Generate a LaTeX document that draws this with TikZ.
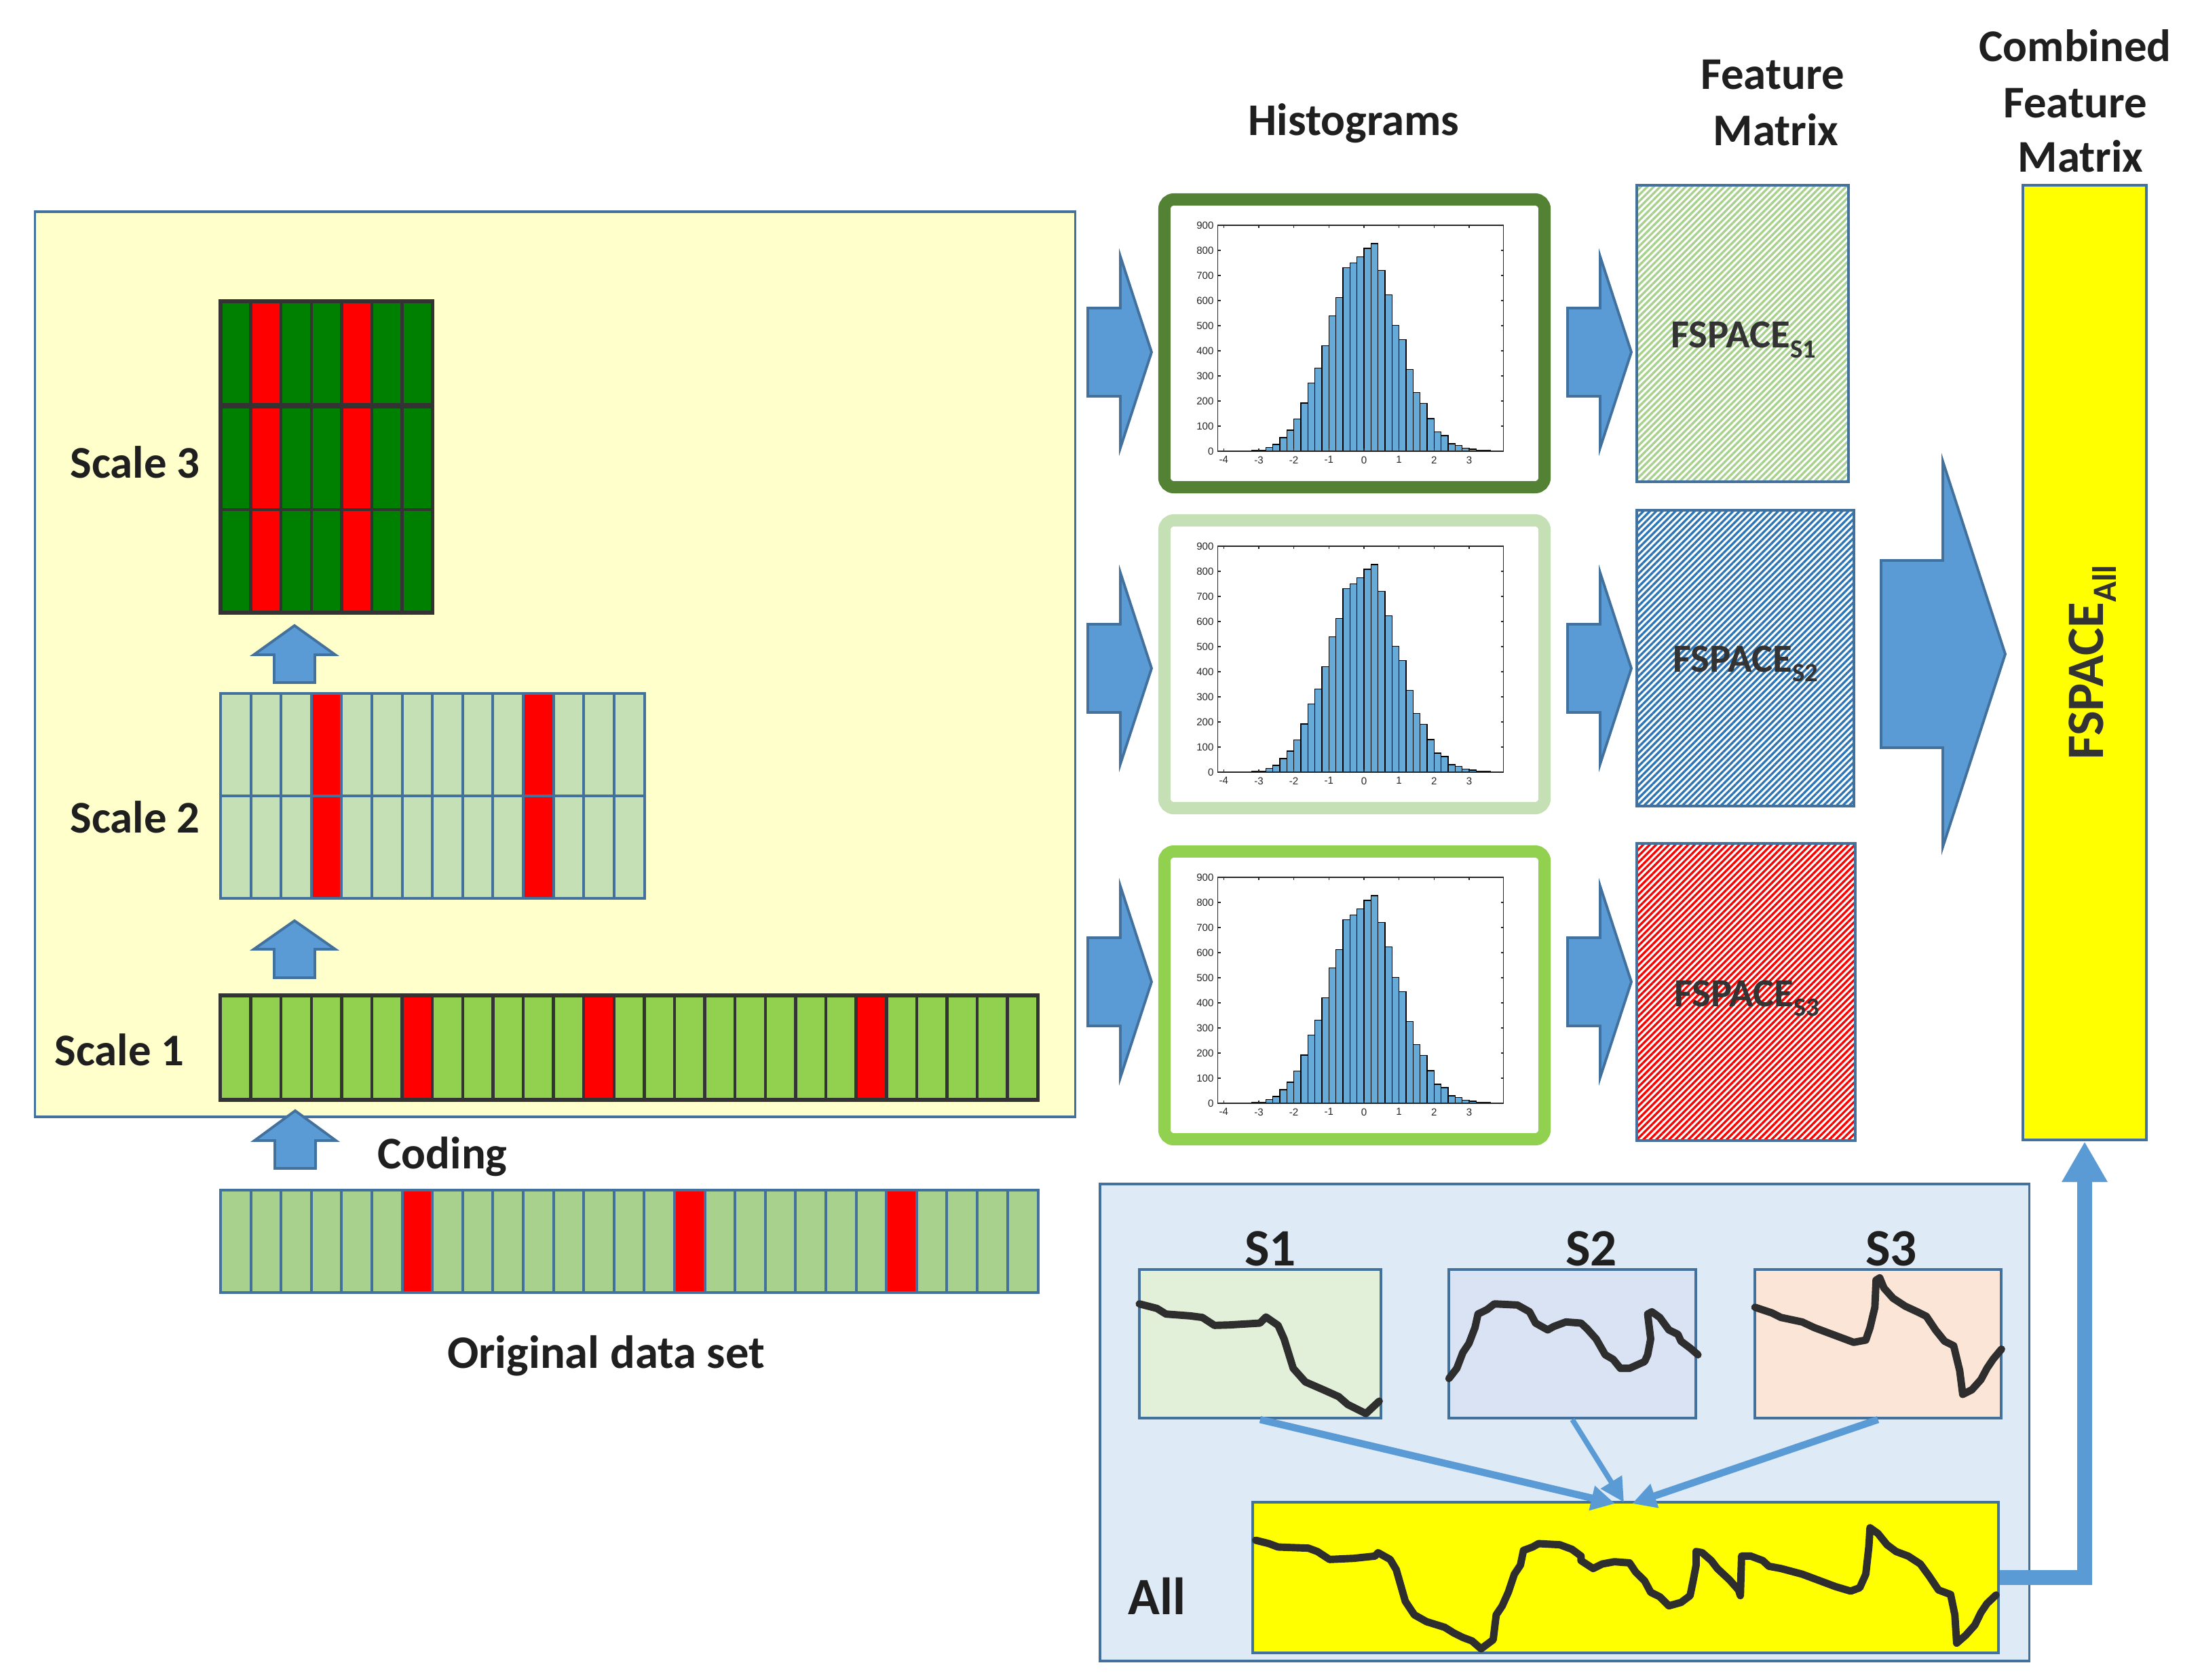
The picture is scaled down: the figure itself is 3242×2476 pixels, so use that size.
\documentclass[tikz,border=0pt]{standalone}
\usepackage{fontspec}
\setmainfont{Carlito}
\newfontfamily\libsans{Liberation Sans}
\usetikzlibrary{arrows.meta,patterns.meta}
\definecolor{bborder}{HTML}{41719C}
\definecolor{afill}{HTML}{5B9BD5}
\definecolor{ybg}{HTML}{FFFFCC}
\definecolor{pbg}{HTML}{DEEBF7}
\definecolor{sonebg}{HTML}{E2F0D9}
\definecolor{stwobg}{HTML}{DAE3F3}
\definecolor{sthreebg}{HTML}{FBE5D6}
\definecolor{gdark}{HTML}{008000}
\definecolor{gmid}{HTML}{92D050}
\definecolor{glight}{HTML}{C5E0B4}
\definecolor{gorig}{HTML}{A9D18E}
\definecolor{hgreen}{HTML}{548235}
\definecolor{gridcol}{HTML}{333333}
\definecolor{txt}{HTML}{1F1F1F}
\definecolor{fstxt}{HTML}{333333}
\definecolor{hbarcol}{HTML}{66AAD7}
\definecolor{pblue}{HTML}{2E75B6}
\definecolor{curvecol}{HTML}{2E2E2E}
\definecolor{pred}{HTML}{FF0000}
\definecolor{yel}{HTML}{FFFF00}

\tikzset{
 barrow/.style={draw=bborder, fill=afill, line width=1.1pt, line join=miter},
 dgrid/.style={draw=gridcol, line width=1.3pt},
 bgrid/.style={draw=bborder, line width=1.1pt},
 lbl/.style={font=\fontsize{19}{23}\selectfont\bfseries, text=txt, inner sep=0pt},
 ttl/.style={lbl},
 box/.style={draw=bborder, line width=1.1pt, inner sep=0pt},
 hframe/.style={line width=5.1pt, fill=white, rounded corners=4pt, inner sep=0pt},
 hbar/.style={draw=black, line width=0.35pt, fill=hbarcol},
 axl/.style={draw=black!85, line width=0.35pt},
 tick/.style={font=\libsans\fontsize{4.3}{5}\selectfont, text=black!85, inner sep=0.8pt},
 fsl/.style={font=\fontsize{16.7}{20}\selectfont\bfseries, text=fstxt, inner sep=0pt},
 curve/.style={draw=curvecol, line width=3.1pt, line join=round, line cap=round},
 conn/.style={draw=afill, -{Triangle[length=10pt,width=10pt]}},
 outconn/.style={draw=afill, line width=6pt, -{Triangle[length=17pt,width=18pt]}},
 slbl/.style={font=\fontsize{22}{26}\selectfont\bfseries, text=txt, inner sep=0pt},
}

\newcommand\uparr[6]{\draw[barrow] (#1-#5,#4) -- (#1-#5,#3) -- (#1-#6,#3) -- (#1,#2) -- (#1+#6,#3) -- (#1+#5,#3) -- (#1+#5,#4) -- cycle;}
\newcommand\rarr[6]{\draw[barrow] (#1,#4-#5) -- (#2,#4-#5) -- (#2,#4-#6) -- (#3,#4) -- (#2,#4+#6) -- (#2,#4+#5) -- (#1,#4+#5) -- cycle;}
\newcommand\fsub[1]{\raisebox{-0.25em}{\fontsize{11}{13}\selectfont #1}}

\newcommand\histo[3]{%
\begin{scope}[shift={(#1,#2)}]
 \foreach \h [count=\i from 0] in {5,5,14,27,54,84,129,192,271,331,420,539,613,732,751,775,808,827,721,623,501,444,325,233,190,130,76,62,30,22,12,8,4,3}
   { \draw[hbar] ({96.3+(0.8+\i*0.2)*51.67},380) rectangle ++(10.334,{-\h*0.37}); }
 \draw[axl] (87.5,47) rectangle (508.5,380);
 \foreach \v [count=\j] in {-4,...,3} {
   \draw[axl] ({96.3+(\v+4)*51.67},380) -- ++(0,-4);
   \draw[axl] ({96.3+(\v+4)*51.67},47) -- ++(0,4);
   \node[tick, anchor=north] (#3x\j) at ({96.3+(\v+4)*51.67},384) {\v};
 }
 \foreach \k in {0,...,9} {
   \draw[axl] (87.5,{380-\k*37}) -- ++(4,0);
   \draw[axl] (508.5,{380-\k*37}) -- ++(-4,0);
   \node[tick, anchor=east] (#3y\k) at (85,{380-\k*37}) {\the\numexpr\k*100\relax};
 }
\end{scope}}

\begin{document}
\begin{tikzpicture}[x=0.01cm, y=-0.01cm]
\useasboundingbox (0,0) rectangle (3242,2476);
\fill[white] (0,0) rectangle (3242,2476);

% ---------- left yellow panel ----------
\node[box, fill=ybg, minimum width=15.32cm, minimum height=13.34cm] (ybox) at (818,979) {};

% Scale 3
\fill[gdark] (325,444) rectangle (637.2,903);
\foreach \c in {1,4} \fill[pred] ({325+\c*44.6},444) rectangle ++(44.6,459);
\foreach \c in {1,...,6} \draw[dgrid] ({325+\c*44.6},444) -- ++(0,459);
\draw[dgrid, line width=2.4pt] (325,598) -- (637.2,598);
\draw[dgrid] (325,751) -- (637.2,751);
\node[draw=gridcol, line width=1.5pt, inner sep=0pt, minimum width=3.122cm, minimum height=4.59cm] (scthree) at (481.1,673.5) {};

% Scale 2
\fill[glight] (325,1022) rectangle (949.4,1324);
\foreach \c in {3,10} \fill[pred] ({325+\c*44.6},1022) rectangle ++(44.6,302);
\foreach \c in {1,...,13} \draw[bgrid] ({325+\c*44.6},1022) -- ++(0,302);
\draw[bgrid] (325,1173) -- (949.4,1173);
\node[box, minimum width=6.244cm, minimum height=3.02cm] (sctwo) at (637.2,1173) {};

% Scale 1
\fill[gmid] (325,1467) rectangle (1529.2,1621);
\foreach \c in {6,12,21} \fill[pred] ({325+\c*44.6},1467) rectangle ++(44.6,154);
\foreach \c in {1,...,26} \draw[dgrid] ({325+\c*44.6},1467) -- ++(0,154);
\node[draw=gridcol, line width=1.6pt, inner sep=0pt, minimum width=12.042cm, minimum height=1.54cm] (scone) at (927.1,1544) {};

% Original data set
\fill[gorig] (325,1754) rectangle (1529.2,1905);
\foreach \c in {6,15,22} \fill[pred] ({325+\c*44.6},1754) rectangle ++(44.6,151);
\foreach \c in {1,...,26} \draw[bgrid] ({325+\c*44.6},1754) -- ++(0,151);
\node[box, minimum width=12.042cm, minimum height=1.51cm] (orig) at (927.1,1829.5) {};

% up arrows
\uparr{434}{922}{965}{1006}{30}{60}
\uparr{434}{1357}{1399}{1441}{30}{60}
\uparr{435}{1637}{1681}{1722}{30}{60}

% labels
\node[lbl, anchor=base] (lthree) at (199,704) {Scale 3};
\node[lbl, anchor=base] (ltwo) at (199,1227) {Scale 2};
\node[lbl, anchor=base] (lone) at (176,1570) {Scale 1};
\node[lbl, anchor=base] (coding) at (652,1722) {Coding};
\node[lbl, anchor=base, font=\fontsize{19.5}{24}\selectfont\bfseries] (origlbl) at (893,2016) {Original data set};

% ---------- titles ----------
\node[ttl, anchor=base] (thist) at (1995,200) {Histograms};
\node[ttl, anchor=base] (tfa) at (2612,132) {Feature};
\node[ttl, anchor=base] (tfb) at (2617,215) {Matrix};
\node[ttl, anchor=base] (tca) at (3058,91) {Combined};
\node[ttl, anchor=base] (tcb) at (3058,174) {Feature};
\node[ttl, anchor=base] (tcc) at (3066,254) {Matrix};

% ---------- arrows into histograms ----------
\rarr{1603}{1651}{1697}{519}{65}{141}
\rarr{1603}{1651}{1697}{985}{65}{141}
\rarr{1603}{1651}{1697}{1447}{65}{141}

% ---------- histograms ----------
\node[hframe, draw=hgreen, minimum width=5.60cm, minimum height=4.24cm] (hone) at (1996,506) {};
\histo{1707}{285}{ha}
\node[hframe, draw=glight, minimum width=5.60cm, minimum height=4.24cm] (htwo) at (1996,979) {};
\histo{1707}{758}{hb}
\node[hframe, draw=gmid, minimum width=5.60cm, minimum height=4.24cm] (hthree) at (1996,1467) {};
\histo{1707}{1246}{hc}

% arrows to feature matrices
\rarr{2310}{2358}{2404}{519}{65}{141}
\rarr{2310}{2358}{2404}{985}{65}{141}
\rarr{2310}{2358}{2404}{1447}{65}{141}

% ---------- feature matrices ----------
\node[box, pattern={Lines[angle=45,distance=1.9pt,line width=0.95pt]}, pattern color=gorig, minimum width=3.12cm, minimum height=4.37cm] (fsone) at (2568,491.5) {};
\node[box, pattern={Lines[angle=45,distance=1.9pt,line width=0.95pt]}, pattern color=pblue, minimum width=3.20cm, minimum height=4.36cm] (fstwo) at (2572,970) {};
\node[box, pattern={Lines[angle=45,distance=1.9pt,line width=0.95pt]}, pattern color=pred, minimum width=3.22cm, minimum height=4.38cm] (fsthree) at (2573,1462) {};
\node[fsl, anchor=base] (tfsone) at (2569,513) {FSPACE\fsub{S1}};
\node[fsl, anchor=base] (tfstwo) at (2572,990) {FSPACE\fsub{S2}};
\node[fsl, anchor=base] (tfsthree) at (2574,1483) {FSPACE\fsub{S3}};

% big arrow
\rarr{2772}{2863}{2955}{964}{138}{284}

% combined
\node[box, fill=yel, minimum width=1.82cm, minimum height=14.07cm] (comb) at (3072,976.5) {};
\node[rotate=90, anchor=base, font=\fontsize{22}{26}\selectfont\bfseries, text=fstxt, inner sep=0pt] (tall) at (3099,976) {FSPACE\raisebox{-0.25em}{\fontsize{14.2}{16}\selectfont All}};

% ---------- bottom panel ----------
\node[box, fill=pbg, minimum width=13.69cm, minimum height=7.03cm] (panel) at (2305.5,2096.5) {};
\node[box, line width=1.2pt, fill=sonebg, minimum width=3.56cm, minimum height=2.19cm] (sone) at (1857,1980.5) {};
\node[box, line width=1.2pt, fill=stwobg, minimum width=3.64cm, minimum height=2.19cm] (stwo) at (2317,1980.5) {};
\node[box, line width=1.2pt, fill=sthreebg, minimum width=3.63cm, minimum height=2.19cm] (sthree) at (2767.5,1980.5) {};
\node[box, line width=1.2pt, fill=yel, minimum width=10.99cm, minimum height=2.22cm] (allbox) at (2395.5,2325) {};

\node[slbl, anchor=base] (lsone) at (1872,1865) {S1};
\node[slbl, anchor=base] (lstwo) at (2345,1865) {S2};
\node[slbl, anchor=base] (lsthree) at (2787,1865) {S3};
\node[slbl, anchor=base] (lall) at (1705,2379) {All};

% curves
\begin{scope}[shift={(1620,1740)}, xscale=0.892857, yscale=0.333333]
\draw[curve] (66,545) -- (95,565) -- (110,590) -- (150,598) -- (170,605) -- (190,640) -- (215,638) -- (265,630) -- (275,603) -- (295,640) -- (305,700) -- (320,830) -- (340,890) -- (370,925) -- (395,955) -- (410,990) -- (440,1030) -- (450,1005) -- (462,975);
\draw[curve] (577,875) -- (590,830) -- (600,760) -- (610,720) -- (620,650) -- (625,590) -- (640,570) -- (652,545) -- (690,550) -- (710,580) -- (720,630) -- (740,660) -- (750,645) -- (770,625) -- (795,630) -- (805,655) -- (820,700) -- (835,770) -- (848,790) -- (860,830) -- (875,830) -- (900,800) -- (905,770) -- (910,700) -- (905,590) -- (912,580) -- (925,605) -- (940,660) -- (955,680) -- (960,710) -- (975,740) -- (988,770);
\draw[curve] (1082,560) -- (1110,585) -- (1125,605) -- (1160,625) -- (1180,650) -- (1200,670) -- (1225,695) -- (1245,715) -- (1265,705) -- (1272,650) -- (1280,560) -- (1282,440) -- (1288,430) -- (1295,475) -- (1310,520) -- (1330,555) -- (1350,580) -- (1365,600) -- (1380,660) -- (1395,710) -- (1410,730) -- (1420,840) -- (1425,945) -- (1440,925) -- (1455,880) -- (1465,830) -- (1475,790) -- (1489,745);
\end{scope}
\begin{scope}[shift={(1620,2180)}, xscale=0.892857, yscale=0.333333]
\draw[curve] (258,270) -- (280,285) -- (295,300) -- (345,305) -- (360,320) -- (380,355) -- (420,350) -- (455,340) -- (460,325) -- (480,355) -- (490,400) -- (505,540) -- (520,600) -- (540,630) -- (570,655) -- (585,680) -- (600,700) -- (615,715) -- (630,750) -- (650,710) -- (655,600) -- (665,560) -- (675,500) -- (685,420) -- (695,380) -- (700,315) -- (715,300) -- (725,285) -- (760,290) -- (780,310) -- (795,340) -- (795,360) -- (815,395) -- (830,375) -- (850,365) -- (875,370) -- (885,410) -- (900,450) -- (910,500) -- (925,520) -- (940,560) -- (960,545) -- (975,515) -- (980,450) -- (985,380) -- (985,320) -- (995,325) -- (1010,360) -- (1020,395) -- (1030,420) -- (1040,445) -- (1055,490) -- (1058,515) -- (1060,340) -- (1075,340) -- (1095,360) -- (1105,385) -- (1125,395) -- (1160,420) -- (1190,450) -- (1215,475) -- (1240,495) -- (1255,480) -- (1265,420) -- (1270,300) -- (1272,215) -- (1285,240) -- (1300,290) -- (1315,320) -- (1335,340) -- (1355,375) -- (1370,430) -- (1385,490) -- (1405,510) -- (1412,600) -- (1415,725) -- (1430,690) -- (1445,645) -- (1455,590) -- (1465,550) -- (1480,512);
\end{scope}

% connectors
\coordinate (tipa) at (2380,2216);
\coordinate (tipb) at (2393,2214);
\coordinate (tipc) at (2405,2216);
\draw[conn, line width=3pt] (sone.south) -- (tipa);
\draw[conn, line width=2.2pt] (stwo.south) -- (tipb);
\draw[conn, line width=3pt] (sthree.south) -- (tipc);
\draw[outconn] (allbox.east) -| (comb.south);
\end{tikzpicture}
\end{document}
